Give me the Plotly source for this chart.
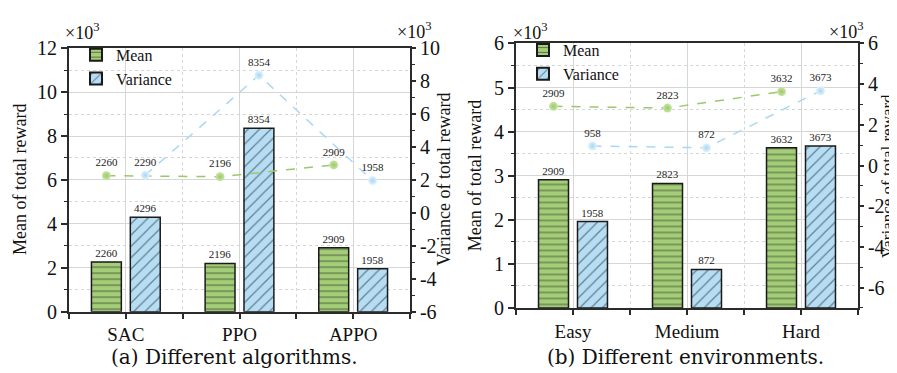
import plotly.graph_objects as go

# ---------------- data ----------------
alg_categories = ["SAC", "PPO", "APPO"]
alg_mean_bar = [2260, 2196, 2909]
alg_var_bar = [4296, 8354, 1958]
alg_mean_line = [2260, 2196, 2909]
alg_var_line = [2290, 8354, 1958]

env_categories = ["Easy", "Medium", "Hard"]
env_mean_bar = [2909, 2823, 3632]
env_var_bar = [1958, 872, 3673]
env_mean_line = [2909, 2823, 3632]
env_var_line = [958, 872, 3673]

left_ticks_a = [0, 2, 4, 6, 8, 10, 12]
right_ticks_a = [-6, -4, -2, 0, 2, 4, 6, 8, 10]
left_ticks_b = [0, 1, 2, 3, 4, 5, 6]
right_ticks_b = [-6, -4, -2, 0, 2, 4, 6]

# ---------------- style ----------------
W, H = 897, 373
GREEN = "#a4cd77"
BLUE = "#b5def5"
GREEN_LINE = "#9cc86a"
BLUE_LINE = "#a9d8f2"
AXIS = "#2b2b2b"
GRID = "#d6d6d6"
SERIF = "Liberation Serif"
OFF = 0.171
BW = 0.263

fig = go.Figure()


def add_panel(cats, mean_bar, var_bar, mean_line, var_line, xa, ya, ya2, legend):
    idx = list(range(len(cats)))
    xm = [i - OFF for i in idx]
    xv = [i + OFF for i in idx]
    lab = dict(family=SERIF, size=11, color="#222")
    fig.add_trace(go.Bar(
        x=xm, y=[v / 1000 for v in mean_bar], width=BW, name="Mean",
        marker=dict(color=GREEN, line=dict(color="#1a1a1a", width=1.5),
                    pattern=dict(shape="-", fgcolor="#1a1a1a", bgcolor=GREEN, size=6, solidity=0.2)),
        text=[str(v) for v in mean_bar], textposition="outside", cliponaxis=False,
        textfont=lab, xaxis=xa, yaxis=ya, legend=legend, showlegend=True))
    fig.add_trace(go.Bar(
        x=xv, y=[v / 1000 for v in var_bar], width=BW, name="Variance",
        marker=dict(color=BLUE, line=dict(color="#1a1a1a", width=1.5),
                    pattern=dict(shape="/", fgcolor="#1a1a1a", bgcolor=BLUE, size=8, solidity=0.15)),
        text=[str(v) for v in var_bar], textposition="outside", cliponaxis=False,
        textfont=lab, xaxis=xa, yaxis=ya, legend=legend, showlegend=True))
    fig.add_trace(go.Scatter(
        x=xm, y=[v / 1000 for v in mean_line], mode="lines+markers+text",
        line=dict(color=GREEN_LINE, width=1.5, dash="dash"),
        marker=dict(size=9, color="#c9e6a6", gradient=dict(type="radial", color=GREEN_LINE),
                    line=dict(width=0)),
        text=[str(v) for v in mean_line], textposition="top center",
        textfont=lab, cliponaxis=False, xaxis=xa, yaxis=ya2, showlegend=False))
    fig.add_trace(go.Scatter(
        x=xv, y=[v / 1000 for v in var_line], mode="lines+markers+text",
        line=dict(color=BLUE_LINE, width=1.5, dash="dash"),
        marker=dict(size=9, color="#e2f3fc", gradient=dict(type="radial", color=BLUE_LINE),
                    line=dict(width=0)),
        text=[str(v) for v in var_line], textposition="top center",
        textfont=lab, cliponaxis=False, xaxis=xa, yaxis=ya2, showlegend=False))


add_panel(alg_categories, alg_mean_bar, alg_var_bar, alg_mean_line, alg_var_line,
          "x", "y", "y2", "legend")
add_panel(env_categories, env_mean_bar, env_var_bar, env_mean_line, env_var_line,
          "x2", "y3", "y4", "legend2")


def px_x(a, b):
    return [a / W, b / W]


def px_y(top, bottom):
    return [(H - bottom) / H, (H - top) / H]


tickfont = dict(family=SERIF, size=20, color="#111")
xtickfont = dict(family=SERIF, size=19, color="#111")


def xaxis_cfg(dom, cats, anchor):
    return dict(domain=dom, anchor=anchor, range=[-0.5, 2.5],
                tickvals=list(range(len(cats))), ticktext=cats,
                ticks="outside", ticklen=5, tickwidth=1.5, tickcolor=AXIS,
                showline=True, linecolor=AXIS, linewidth=1.8, mirror=True,
                showgrid=True, gridcolor=GRID, gridwidth=1.2,
                minor=dict(tick0=-0.5, dtick=1, ticks="outside", ticklen=5, tickwidth=1.5,
                           tickcolor=AXIS, showgrid=True, gridcolor=GRID, griddash="dot", gridwidth=1),
                tickfont=xtickfont, zeroline=False, fixedrange=True)


def yaxis_left(dom, rng, tv, minor_dt, anchor):
    return dict(domain=dom, anchor=anchor, range=rng, tickvals=tv, ticktext=[str(t) for t in tv],
                ticks="outside", ticklen=6, tickwidth=1.5, tickcolor=AXIS,
                showline=True, linecolor=AXIS, linewidth=1.8,
                showgrid=True, gridcolor=GRID, gridwidth=1.2,
                minor=dict(dtick=minor_dt, tick0=0, ticks="outside", ticklen=3, tickwidth=1.2,
                           tickcolor=AXIS, showgrid=True, gridcolor=GRID, griddash="dot", gridwidth=1),
                tickfont=tickfont, zeroline=False, fixedrange=True)


def yaxis_right(overlay, rng, tv, anchor):
    return dict(overlaying=overlay, side="right", anchor=anchor, range=rng, tickvals=tv,
                ticktext=[str(t) for t in tv],
                ticks="outside", ticklen=4, tickwidth=1.5, tickcolor=AXIS,
                showline=True, linecolor=AXIS, linewidth=1.8, showgrid=False,
                minor=dict(dtick=1, tick0=0, ticks="outside", ticklen=3, tickwidth=1.2,
                           tickcolor=AXIS, showgrid=False),
                tickfont=tickfont, zeroline=False, fixedrange=True)


legend_common = dict(font=dict(family=SERIF, size=16, color="#111"), bgcolor="rgba(0,0,0,0)",
                     xanchor="left", yanchor="top", tracegroupgap=0, itemsizing="constant",
                     traceorder="normal", itemwidth=30)

annots = []
ann_font = dict(family=SERIF, size=18, color="#111")
for (x, y) in [(74, 13), (406, 12), (522, 13), (838, 12)]:
    annots.append(dict(text="×10<sup>3</sup>", x=x / W, y=1 - y / H, xref="paper", yref="paper",
                       showarrow=False, font=ann_font, xanchor="center", yanchor="middle"))
for (x, y, t, s) in [(12, 171, "Mean of total reward", 18), (436, 171, "Variance of total reward", 18),
                     (467, 167, "Mean of total reward", 18), (879, 167, "Variance of total reward", 17)]:
    annots.append(dict(text=t, x=x / W, y=1 - y / H, xref="paper", yref="paper", textangle=-90,
                       showarrow=False, font=dict(family=SERIF, size=s, color="#111"),
                       xanchor="center", yanchor="middle"))
for (x, t) in [(227, "(a) Different algorithms."), (677, "(b) Different environments.")]:
    annots.append(dict(text=t, x=x / W, y=1 - 359 / H, xref="paper", yref="paper",
                       showarrow=False, font=dict(family="DejaVu Serif", size=20, color="#111"),
                       xanchor="center", yanchor="middle"))

fig.update_layout(
    width=W, height=H, margin=dict(l=0, r=0, t=0, b=0),
    paper_bgcolor="white", plot_bgcolor="white",
    barmode="overlay", showlegend=True,
    xaxis=xaxis_cfg(px_x(61, 402), alg_categories, "y"),
    yaxis=yaxis_left(px_y(31, 311), [0, 12], left_ticks_a, 1, "x"),
    yaxis2=yaxis_right("y", [-6, 10], right_ticks_a, "x"),
    xaxis2=xaxis_cfg(px_x(508, 850), env_categories, "y3"),
    yaxis3=yaxis_left(px_y(26, 307), [0, 6], left_ticks_b, 0.5, "x2"),
    yaxis4=yaxis_right("y3", [-7, 6], right_ticks_b, "x2"),
    legend=dict(x=68 / W, y=1 - 20 / H, **legend_common),
    legend2=dict(x=515 / W, y=1 - 15 / H, **legend_common),
    annotations=annots,
)

fig.write_html("out.html")
